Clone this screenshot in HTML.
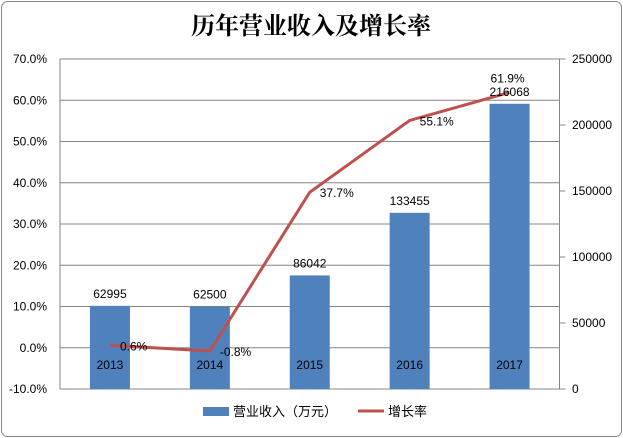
<!DOCTYPE html>
<html><head><meta charset="utf-8"><style>
body{margin:0;background:#fff;}
svg{display:block;font-family:"Liberation Sans","Noto Sans CJK SC",sans-serif;}
</style></head><body>
<svg id="c" width="623" height="438">
<rect x="1.5" y="1.5" width="620" height="435" rx="6" fill="#fff" stroke="#888"/>
<text x="311" y="34" text-anchor="middle" font-size="24" font-weight="bold" font-family="'Noto Serif CJK SC','Liberation Serif',serif">历年营业收入及增长率</text>
<g id="grid"></g><g id="bars"></g><g id="line"></g><g id="labels"></g>
<g>
<rect x="203" y="407" width="26" height="9" fill="#4f81bd"/>
<text x="233" y="416" font-size="13">营业收入（万元）</text>
<line x1="358" y1="411" x2="384" y2="411" stroke="#c0504d" stroke-width="3"/>
<text x="388" y="416" font-size="13">增长率</text>
</g>
</svg>
<script>
const years=["2013","2014","2015","2016","2017"];
const revenue=[62995,62500,86042,133455,216068];
const growth=[0.6,-0.8,37.7,55.1,61.9];
const leftTicks=[-10,0,10,20,30,40,50,60,70];
const rightTicks=[0,50000,100000,150000,200000,250000];
const NS="http://www.w3.org/2000/svg";
const L=60,R=559.5,T=59,B=389;
const yL=v=>B-(v+10)/80*(B-T);
const yR=v=>B-v/250000*(B-T);
const cw=(R-L)/years.length;
const xC=i=>L+cw*(i+0.5);
function mk(tag,attrs,parent,txt){const e=document.createElementNS(NS,tag);for(const k in attrs)e.setAttribute(k,attrs[k]);if(txt!==undefined)e.textContent=txt;document.getElementById(parent).appendChild(e);return e;}
leftTicks.forEach(t=>{const y=yL(t);
const g=mk('line',{x1:L,x2:R,y1:y,y2:y,stroke:'#868686','stroke-width':1},'grid');


const tx=mk('text',{x:47,y:y+4,'text-anchor':'end','font-size':12},'grid',t.toFixed(1)+'%');

});
rightTicks.forEach(t=>{const y=yR(t);
const tk=mk('line',{x1:R,x2:R+6,y1:y,y2:y,stroke:'#868686'},'grid');


const tx=mk('text',{x:572,y:y+4,'font-size':12},'grid',String(t));

});
let ax=mk('line',{x1:L,x2:L,y1:T,y2:B,stroke:'#868686'},'grid');


ax=mk('line',{x1:R,x2:R,y1:T,y2:B,stroke:'#868686'},'grid');


revenue.forEach((v,i)=>{const x=xC(i),y=yR(v);
const b=mk('rect',{x:x-20,y:y,width:40,height:B-y,fill:'#4f81bd'},'bars');


const t=mk('text',{x:x,y:y-8,'text-anchor':'middle','font-size':12},'labels',String(v));


const c=mk('text',{x:x,y:369,'text-anchor':'middle','font-size':12},'labels',years[i]);

});
const pts=growth.map((v,i)=>xC(i)+','+yL(v)).join(' ');
const pl=mk('polyline',{points:pts,fill:'none',stroke:'#c0504d','stroke-width':3},'line');


growth.forEach((v,i)=>{const x=xC(i),y=yL(v);
const t=mk('text',{x:x+10,y:y+(i==4?-10:5),'font-size':12,'text-anchor':i==4?'middle':'start'},'labels',v.toFixed(1)+'%');
if(i==4)t.setAttribute('x',x-2);

});
</script>
</body></html>
